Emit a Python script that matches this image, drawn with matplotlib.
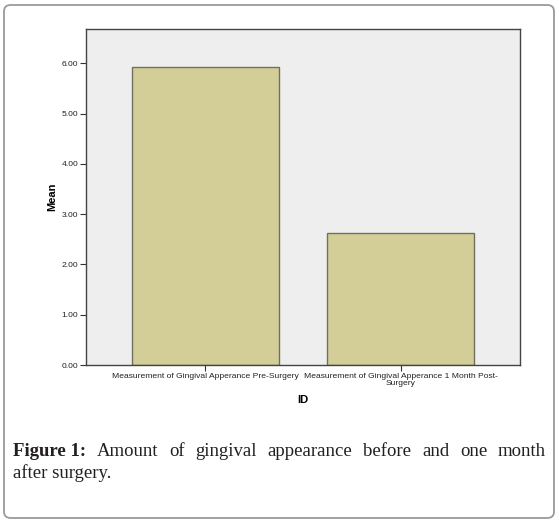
import matplotlib
matplotlib.use("Agg")
import matplotlib.pyplot as plt
from matplotlib.patches import FancyBboxPatch

categories = ["Measurement of Gingival Apperance Pre-Surgery",
              "Measurement of Gingival Apperance 1 Month Post-\nSurgery"]
means = [5.93, 2.63]
yticks = [0, 1, 2, 3, 4, 5, 6]
ytick_labels = ["0.00", "1.00", "2.00", "3.00", "4.00", "5.00", "6.00"]

W, H = 559, 523
fig = plt.figure(figsize=(W / 100, H / 100), dpi=100)
fig.patch.set_facecolor("white")

# rounded outer frame
frame = FancyBboxPatch((4 / W, 5 / H), 550 / W, 513 / H,
                       boxstyle="round,pad=0,rounding_size=0.012",
                       transform=fig.transFigure, facecolor="none",
                       edgecolor="#9a9a9a", linewidth=1.3)
fig.patches.append(frame)

ax = fig.add_axes([86 / W, 1 - 365 / H, 434 / W, 336 / H])
ax.set_facecolor("#eeeeee")
x = list(range(len(categories)))
ax.bar(x, means, width=0.75, color="#d3ce97", edgecolor="#6f6f62", linewidth=1.0)
ax.set_xlim(-0.61, 1.61)
ax.set_ylim(0, 6.68)
ax.set_yticks(yticks)
ax.set_yticklabels(ytick_labels, fontsize=6.1, family="Liberation Sans", color="#222222")
ax.set_xticks(x)
ax.set_xticklabels(categories, fontsize=6.1, family="Liberation Sans", color="#222222")
for lab in ax.get_xticklabels():
    lab.set_linespacing(1.0)
ax.tick_params(axis="both", direction="out", length=4, width=0.8, color="#333333", pad=1.5)
for s in ax.spines.values():
    s.set_color("#444444")
    s.set_linewidth(1.0)
ax.set_ylabel("Mean", fontsize=8, fontweight="bold", family="Liberation Sans", labelpad=3)
ax.set_xlabel("ID", fontsize=8, fontweight="bold", family="Liberation Sans", labelpad=6)

# justified caption
fig.canvas.draw()
renderer = fig.canvas.get_renderer()
line1 = [("Figure 1:", "bold"), ("Amount", "normal"), ("of", "normal"), ("gingival", "normal"),
         ("appearance", "normal"), ("before", "normal"), ("and", "normal"), ("one", "normal"),
         ("month", "normal")]
fs = 13.5
cap_color = "#231f20"
x0, x1 = 13, 546
y1 = 1 - 456 / H
texts = []
widths = []
for w, wt in line1:
    t = fig.text(0, y1, w, fontsize=fs, fontweight=wt, family="Liberation Serif",
                 color=cap_color, ha="left", va="baseline")
    bb = t.get_window_extent(renderer)
    texts.append(t)
    widths.append(bb.width)
gap = ((x1 - x0) - sum(widths)) / (len(widths) - 1)
cx = x0
for t, wd in zip(texts, widths):
    t.set_x(cx / W)
    cx += wd + gap
fig.text(x0 / W, 1 - 478 / H, "after surgery.", fontsize=fs, family="Liberation Serif",
         color=cap_color, ha="left", va="baseline")

fig.savefig("out.png", dpi=100, facecolor="white")
